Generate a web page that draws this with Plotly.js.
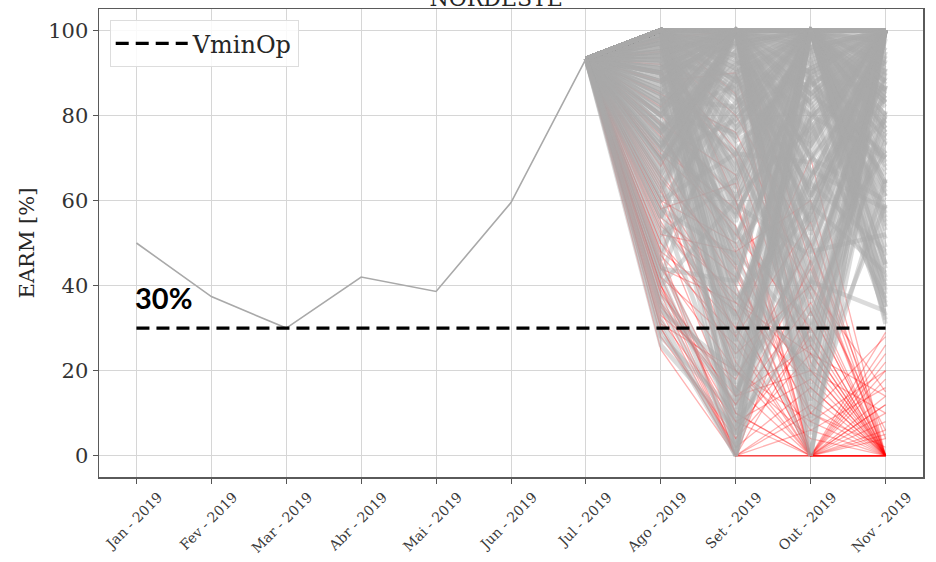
<!DOCTYPE html>
<html>
<head>
<meta charset="utf-8">
<script src="https://cdn.plot.ly/plotly-3.0.1.min.js"></script>
<style>
  html, body { margin: 0; padding: 0; background: #ffffff; }
  #chart { width: 936px; height: 562px; }
</style>
</head>
<body>
<div id="chart"></div>
<script>
// Months of the study horizon
const months = ['Jan - 2019', 'Fev - 2019', 'Mar - 2019', 'Abr - 2019', 'Mai - 2019', 'Jun - 2019',
                'Jul - 2019', 'Ago - 2019', 'Set - 2019', 'Out - 2019', 'Nov - 2019'];

// Verified storage, Jan to Jul (EARM %)
const histEarm = [50, 37.4, 30, 42, 38.6, 59.5, 93.3];

// Minimum operative volume
const vminOp = 30;
const vminLabel = '30%';

// Forward scenarios, values for Ago, Set, Out, Nov (EARM %), ending at or above VminOp
const scenariosAbove = [
  [100,100,100,100],[100,100,100,92],[100,96,100,100],[98,100,94,100],[100,88,100,100],
  [97,100,100,86],[100,93,80,100],[95,100,100,74],[100,78,100,97],[99,100,86,66],
  [100,71,96,100],[93,89,100,100],[100,100,70,91],[96,64,100,84],[100,100,100,56],
  [91,100,76,100],[100,57,89,100],[98,95,62,79],[100,83,100,47],[88,100,100,100],
  [100,49,72,100],[94,100,53,94],[100,67,100,39],[86,75,91,100],[100,100,45,71],
  [97,41,100,83],[90,97,67,58],[100,59,47,100],[83,100,100,77],[100,91,36,98],
  [92,35,81,100],[100,100,83,33],[80,87,100,61],[99,29,100,100],[87,100,59,43],
  [100,45,100,69],[78,61,77,100],[95,100,29,87],[100,23,65,100],[84,71,100,51],
  [100,100,21,100],[76,93,49,89],[93,17,91,75],[100,81,100,31],[72,100,85,100],
  [89,53,31,95],[100,11,100,63],[81,100,71,37],[97,37,57,100],[70,79,100,85],
  [100,100,15,59],[86,7,75,100],[68,100,100,67],[99,73,25,100],[79,27,100,93],
  [100,0,100,100],[74,57,89,41],[94,100,11,81],[66,89,63,100],[100,65,100,35],
  [83,0,57,100],[62,100,100,100],[98,43,19,91],[77,13,85,71],[100,100,0,100],
  [60,71,69,96],[90,31,100,49],[72,100,37,100],[100,87,7,65],[58,47,100,100],
  [88,100,93,32],[65,19,41,100],[100,55,100,79],[56,100,61,88],[85,5,100,57],
  [70,91,0,100],[95,100,97,45],[54,33,79,100],[80,100,41,34],[100,39,0,87],
  [52,65,100,73],[75,0,93,100],[92,85,55,100],[50,100,23,100],[97,21,100,97],
  [63,100,89,61],[100,100,61,100],[48,81,100,91],[82,95,13,100],[58,9,65,100],
  [100,75,100,100],[46,100,100,42],[78,51,100,100],[99,100,85,100],[44,41,100,83],
  [67,100,75,100],[90,15,51,100],[100,97,100,71],[42,89,57,100],[73,100,5,100],
  [100,100,100,80],[96,100,90,100],[100,92,100,62],[89,100,100,95],[100,84,73,100],
  [94,69,100,100],[100,100,78,40],[85,100,48,100],[100,62,100,90],[77,97,100,53],
  [100,33,87,100],[91,100,33,76],[100,77,95,36],[69,100,100,82],[98,25,100,100],
  [100,100,55,100],[60,83,100,100],[93,100,100,68],[100,48,27,100],[40,60,100,100],
  [100,100,95,100],[99,97,100,88],[100,90,100,76],[97,100,82,100],[100,80,91,100],
  [92,100,100,58],[100,74,84,100],[95,86,100,92],[100,100,66,84],[90,68,100,100],
  [100,60,100,54],[88,100,88,70],[100,94,58,100],[84,82,100,96],[100,52,79,100],
  [94,100,64,48],[100,100,39,100],[80,76,100,78],[100,44,95,100],[91,100,100,38],
  [100,36,61,100],[76,100,73,100],[98,89,43,93],[100,27,100,80],[86,100,54,100],
  [100,70,33,100],[73,95,100,64],[96,19,77,100],[100,100,26,74],[82,56,100,100],
  [100,14,89,86],[69,100,96,100],[93,46,17,100],[100,99,48,52],[78,24,100,100],
  [100,86,9,100],[64,100,80,90],[90,3,100,77],[100,58,100,44],[72,100,18,100],
  [97,63,100,100],[56,90,100,100],[100,100,74,100],[85,32,66,100],[100,79,100,100],
  [61,100,52,100],[94,100,100,100],[100,91,87,100],[80,100,100,88],[100,100,92,100],
  [99,50,100,100],[70,100,100,94],[100,66,100,100],[88,100,70,100],[100,100,100,76],
  [95,77,100,100],[100,100,83,100],[66,100,90,100],[100,96,100,84],[91,100,100,100],
  [100,40,100,100],[83,100,100,100],[100,100,100,64],[76,92,100,100],[100,85,100,100],
  [98,100,100,100],[100,100,96,100],[87,99,100,100],[100,100,100,98],[100,94,100,100],
  [74,100,100,100],[100,100,100,100],[96,100,100,100],[100,98,100,100],[90,100,100,100],
  [100,100,98,100],[81,100,100,100],[100,100,100,86],[93,100,100,100],[100,88,100,100],
  [32,0,60,100],[28,10,80,70],[35,5,100,45],[38,15,45,90],[30,0,100,100],
  [42,2,70,60],[26,6,40,100],[34,20,90,35],[45,8,30,80],[36,12,100,55]
];

// Forward scenarios, values for Ago, Set, Out, Nov (EARM %), ending below VminOp
const scenariosBelow = [
  [60,20,8,0],[45,10,0,5],[38,0,12,0],[70,40,0,0],[35,14,20,10],
  [55,30,6,0],[30,0,0,0],[80,60,10,0],[50,24,40,15],[40,6,28,0],
  [65,45,0,20],[33,18,50,4],[75,52,30,0],[48,0,0,22],[58,36,16,0],
  [28,4,24,0],[90,70,20,0],[42,26,0,12],[68,100,0,0],[36,12,36,0],
  [52,48,60,0],[25,0,10,28],[85,76,40,6],[44,20,4,0],[62,34,0,26],
  [32,8,18,0],[72,58,24,14],[46,0,30,0],[56,42,10,2],[38,16,0,18],
  [95,80,50,0],[50,30,70,0],[64,22,0,8],[30,2,16,0],[78,66,0,24],
  [40,12,44,0],[54,38,20,0],[34,0,6,16],[88,90,34,0],[47,28,0,0],
  [60,50,14,0],[100,60,0,0],[40,0,46,0],[66,44,0,10],[44,36,24,0],
  [82,100,26,0],[36,0,0,12],[70,28,55,0],[53,10,0,29],[100,85,22,0],
  [58,64,0,6],[42,4,34,0],[76,48,8,20],[31,20,0,0],[92,72,38,0],
  [48,34,0,14],[63,14,26,0],[98,100,45,0],[39,8,0,4],[71,54,0,0]
];

const lastHistIdx = histEarm.length - 1;
const forwardMonths = months.slice(lastHistIdx);   // Jul .. Nov
const serif = 'DejaVu Serif, serif';

const traces = [];

function scenarioTrace(vals, color, width) {
  return {
    x: forwardMonths,
    y: [histEarm[lastHistIdx]].concat(vals),
    type: 'scatter',
    mode: 'lines',
    line: { color: color, width: width },
    hoverinfo: 'skip',
    showlegend: false
  };
}

// Scenarios that end below VminOp sit underneath the others
scenariosBelow.forEach(s => traces.push(scenarioTrace(s, 'rgba(255,0,0,0.3)', 1.3)));
scenariosAbove.forEach(s => traces.push(scenarioTrace(s, 'rgba(169,169,169,0.42)', 4.5)));

// Verified history
traces.push({
  x: months.slice(0, histEarm.length),
  y: histEarm,
  type: 'scatter',
  mode: 'lines',
  line: { color: '#a9a9a9', width: 1.6 },
  hoverinfo: 'skip',
  showlegend: false
});

// VminOp reference line
traces.push({
  x: [months[0], months[months.length - 1]],
  y: [vminOp, vminOp],
  type: 'scatter',
  mode: 'lines',
  name: 'VminOp',
  line: { color: '#000000', width: 3.2, dash: '13px,7px' },
  hoverinfo: 'skip',
  showlegend: true
});

const layout = {
  width: 936,
  height: 562,
  margin: { l: 99, r: 13, t: 9, b: 85 },
  paper_bgcolor: '#ffffff',
  plot_bgcolor: '#ffffff',
  title: {
    text: 'NORDESTE',
    font: { family: serif, size: 22, color: '#262626' },
    x: 0.53, xanchor: 'center',
    yref: 'paper', y: 1, yanchor: 'bottom',
    pad: { b: 3 }
  },
  showlegend: true,
  legend: {
    x: 0.013, y: 0.976, xanchor: 'left', yanchor: 'top',
    bgcolor: 'rgba(255,255,255,0.85)',
    bordercolor: '#dddddd', borderwidth: 1,
    font: { family: serif, size: 24, color: '#262626' },
    itemwidth: 72
  },
  xaxis: {
    type: 'category',
    categoryorder: 'array',
    categoryarray: months,
    range: [-0.5, 10.5],
    tickangle: -45,
    tickfont: { family: serif, size: 14, color: '#3a3a3a' },
    ticks: 'outside', ticklen: 5, tickcolor: '#555555',
    ticklabelshift: 22,
    showgrid: true, gridcolor: '#d6d6d6', gridwidth: 1,
    showline: true, linecolor: '#5a5a5a', linewidth: 1.5, mirror: true,
    zeroline: false
  },
  yaxis: {
    range: [-5, 105],
    tickvals: [0, 20, 40, 60, 80, 100],
    tickfont: { family: serif, size: 21, color: '#333333' },
    ticks: 'outside', ticklen: 5, tickcolor: '#555555',
    showgrid: true, gridcolor: '#d6d6d6', gridwidth: 1,
    showline: true, linecolor: '#5a5a5a', linewidth: 1.5, mirror: true,
    zeroline: false,
    title: { text: 'EARM [%]', font: { family: serif, size: 21, color: '#262626' }, standoff: 8 }
  },
  annotations: [{
    x: months[0], y: vminOp, xref: 'x', yref: 'y',
    text: '<b>' + vminLabel + '</b>',
    showarrow: false,
    xanchor: 'left', yanchor: 'bottom',
    xshift: -3, yshift: 11,
    font: { family: 'Lato, Open Sans, sans-serif', size: 29, color: '#000000' }
  }]
};

Plotly.newPlot('chart', traces, layout, { displayModeBar: false, staticPlot: true });
</script>
</body>
</html>
